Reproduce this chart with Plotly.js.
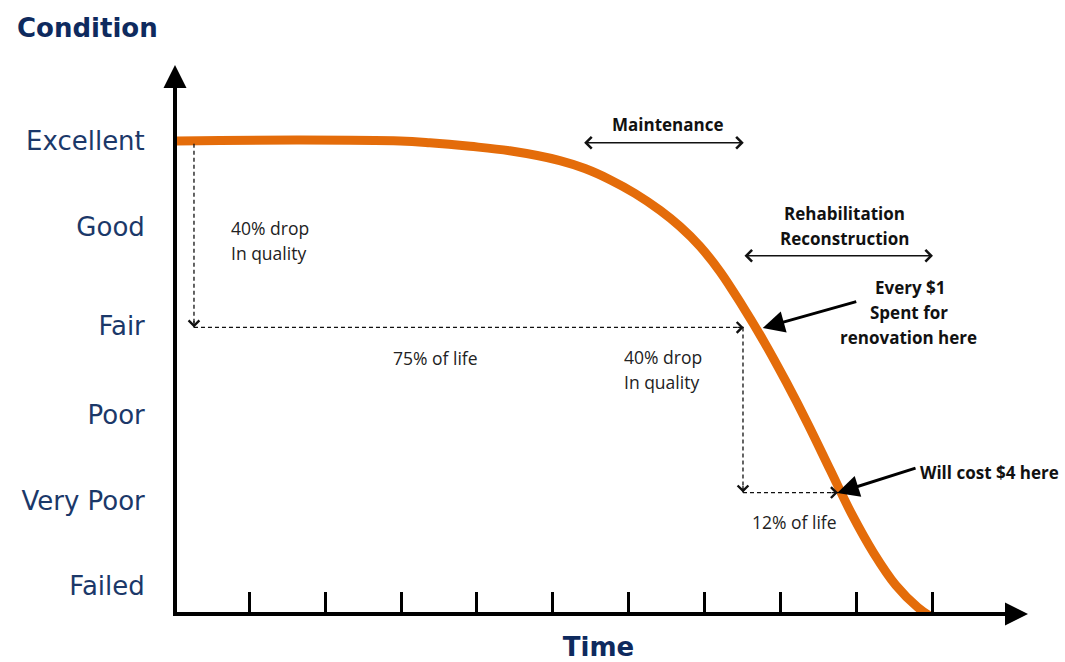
<!DOCTYPE html>
<html>
<head>
<meta charset="utf-8">
<script src="https://cdn.plot.ly/plotly-3.0.1.min.js"></script>
<style>
  html, body { margin: 0; padding: 0; background: #ffffff; }
  #chart { width: 1065px; height: 662px; }
</style>
</head>
<body>
<div id="chart"></div>
<script>
// ---- Data ----
const conditionLabels = ['Failed', 'Very Poor', 'Poor', 'Fair', 'Good', 'Excellent'];
const conditionLevels = [0, 0.96, 1.92, 2.92, 4.03, 5];
const timeTicks = [1, 2, 3, 4, 5, 6, 7, 8, 9, 10];

// Deterioration curve (time in tick units, condition on the 0..5 scale)
const curveTime      = [0, 1.67, 2.99, 3.38, 3.91, 4.43, 5.09, 5.42, 5.75, 6.08, 6.41, 6.67, 6.93, 7.20, 7.49, 7.78, 8.07, 8.36, 8.65, 8.93, 9.22, 9.51, 9.80, 10.0];
const curveCondition = [5.0, 5.01, 5.0, 4.98, 4.94, 4.89, 4.78, 4.69, 4.565, 4.41, 4.22, 4.04, 3.82, 3.53, 3.15, 2.74, 2.29, 1.81, 1.30, 0.81, 0.37, 0.01, -0.24, -0.36];

// Measurement guides (dashed lines)
const guideFirstDrop  = { x: 0.276, yFrom: 4.97, yTo: 2.905 };  // 40% drop in quality
const guideFirstLife  = { y: 2.905, xFrom: 0.276, xTo: 7.51 };  // 75% of life
const guideSecondDrop = { x: 7.50, yFrom: 2.905, yTo: 1.05 };   // 40% drop in quality
const guideSecondLife = { y: 1.05, xFrom: 7.50, xTo: 8.75 };    // 12% of life

// Phase ranges
const maintenanceRange = { y: 4.98, xFrom: 5.39, xTo: 7.51 };
const rehabRange       = { y: 3.71, xFrom: 7.50, xTo: 10.0 };

// Callout arrows
const callout1 = { tailX: 9.01, tailY: 3.20, headX: 7.76, headY: 2.90 };
const callout2 = { tailX: 9.79, tailY: 1.33, headX: 8.74, headY: 1.045 };

// ---- Styling ----
const NAVY = '#1B3869';
const TITLE_NAVY = '#0E2A5E';
const ORANGE = '#E46C0A';
const BOLD_FONT = { family: '"Open Sans", Lato, sans-serif', size: 17, color: '#111111', weight: 700 };
const REG_FONT  = { family: '"Open Sans", Lato, sans-serif', size: 17.5, color: '#222222' };

const traces = [{
  x: curveTime,
  y: curveCondition,
  type: 'scatter',
  mode: 'lines',
  line: { color: ORANGE, width: 9, shape: 'spline', smoothing: 1.0 },
  hoverinfo: 'skip',
  showlegend: false
}];

const dashLine = { color: '#111111', width: 1.3, dash: '4px,3px' };
const shapes = [
  { type: 'line', xref: 'x', yref: 'y', x0: guideFirstDrop.x, x1: guideFirstDrop.x, y0: guideFirstDrop.yFrom, y1: guideFirstDrop.yTo, line: dashLine },
  { type: 'line', xref: 'x', yref: 'y', x0: guideFirstLife.xFrom, x1: guideFirstLife.xTo, y0: guideFirstLife.y, y1: guideFirstLife.y, line: dashLine },
  { type: 'line', xref: 'x', yref: 'y', x0: guideSecondDrop.x, x1: guideSecondDrop.x, y0: guideSecondDrop.yFrom, y1: guideSecondDrop.yTo, line: dashLine },
  { type: 'line', xref: 'x', yref: 'y', x0: guideSecondLife.xFrom, x1: guideSecondLife.xTo, y0: guideSecondLife.y, y1: guideSecondLife.y, line: dashLine }
];

function chevron(x, y, ax, ay) {
  return { x: x, y: y, xref: 'x', yref: 'y', ax: ax, ay: ay, axref: 'pixel', ayref: 'pixel',
    text: '', showarrow: true, arrowhead: 4, arrowsize: 1.6, arrowwidth: 1.3, arrowcolor: '#111111' };
}
function doubleArrow(r) {
  return { x: r.xTo, y: r.y, ax: r.xFrom, ay: r.y, xref: 'x', yref: 'y', axref: 'x', ayref: 'y',
    text: '', showarrow: true, arrowhead: 4, startarrowhead: 4, arrowside: 'end+start',
    arrowsize: 1.6, startarrowsize: 1.6, arrowwidth: 1.4, arrowcolor: '#111111' };
}
function callout(c) {
  return { x: c.headX, y: c.headY, ax: c.tailX, ay: c.tailY, xref: 'x', yref: 'y', axref: 'x', ayref: 'y',
    text: '', showarrow: true, arrowhead: 2, arrowsize: 1.45, arrowwidth: 3, arrowcolor: '#000000', standoff: 0 };
}
function label(x, y, text, font, xanchor) {
  return { x: x, y: y, xref: 'x', yref: 'y', text: text, showarrow: false, font: font,
    xanchor: xanchor || 'center', yanchor: 'middle' };
}

const annotations = [
  // axis arrowheads (paper coordinates so they can sit beyond the plot area)
  { x: -0.0024, y: 1.028, xref: 'paper', yref: 'paper', ax: 0, ay: 23, axref: 'pixel', ayref: 'pixel', text: '', showarrow: true,
    arrowhead: 2, arrowsize: 1.15, arrowwidth: 4, arrowcolor: '#000000' },
  { x: 1.0095, y: -0.0038, xref: 'paper', yref: 'paper', ax: -23, ay: 0, axref: 'pixel', ayref: 'pixel', text: '', showarrow: true,
    arrowhead: 2, arrowsize: 1.15, arrowwidth: 4, arrowcolor: '#000000' },
  // dashed guide arrowheads
  chevron(guideFirstDrop.x, guideFirstDrop.yTo, 0, -8),
  chevron(guideFirstLife.xTo, guideFirstLife.y, -8, 0),
  chevron(guideSecondDrop.x, guideSecondDrop.yTo, 0, -8),
  chevron(guideSecondLife.xTo, guideSecondLife.y, -8, 0),
  // phase arrows
  doubleArrow(maintenanceRange),
  doubleArrow(rehabRange),
  // callouts
  callout(callout1),
  callout(callout2),
  // bold labels
  label(6.51, 5.19, 'Maintenance', BOLD_FONT),
  label(8.84, 4.18, 'Rehabilitation', BOLD_FONT),
  label(8.84, 3.90, 'Reconstruction', BOLD_FONT),
  label(9.70, 3.35, 'Every $1', BOLD_FONT),
  label(9.68, 3.07, 'Spent for', BOLD_FONT),
  label(9.68, 2.79, 'renovation here', BOLD_FONT),
  label(10.75, 1.28, 'Will cost $4 here', BOLD_FONT),
  // regular labels
  label(0.737, 4.02, '40% drop', REG_FONT, 'left'),
  label(0.737, 3.74, 'In quality', REG_FONT, 'left'),
  label(3.46, 2.56, '75% of life', REG_FONT),
  label(5.91, 2.57, '40% drop', REG_FONT, 'left'),
  label(5.91, 2.29, 'In quality', REG_FONT, 'left'),
  label(8.18, 0.72, '12% of life', REG_FONT)
];

const layout = {
  width: 1065,
  height: 662,
  paper_bgcolor: '#ffffff',
  plot_bgcolor: '#ffffff',
  margin: { l: 177, r: 45, t: 80, b: 50 },
  showlegend: false,
  title: {
    text: '<b>Condition</b>',
    font: { family: '"DejaVu Sans", Verdana, sans-serif', size: 26, color: TITLE_NAVY },
    xref: 'container', yref: 'container',
    x: 0.016, xanchor: 'left',
    y: 0.958, yanchor: 'middle'
  },
  xaxis: {
    range: [0.0526, 11.145],
    showgrid: false,
    zeroline: false,
    showline: true,
    linecolor: '#000000',
    linewidth: 4,
    ticks: 'inside',
    tickvals: timeTicks,
    ticklen: 20,
    tickwidth: 3,
    tickcolor: '#000000',
    showticklabels: false,
    title: {
      text: '<b>Time</b>',
      font: { family: '"DejaVu Sans", Verdana, sans-serif', size: 26, color: TITLE_NAVY },
      standoff: 40
    },
    automargin: false,
    fixedrange: true
  },
  yaxis: {
    range: [-0.292, 5.685],
    showgrid: false,
    zeroline: false,
    showline: true,
    linecolor: '#000000',
    linewidth: 4,
    ticks: '',
    tickvals: conditionLevels,
    ticktext: conditionLabels,
    tickfont: { family: '"DejaVu Sans", Verdana, sans-serif', size: 26, color: NAVY },
    ticklabelstandoff: 23,
    automargin: false,
    fixedrange: true
  },
  shapes: shapes,
  annotations: annotations
};

Plotly.newPlot('chart', traces, layout, { displayModeBar: false, staticPlot: true });
</script>
</body>
</html>
